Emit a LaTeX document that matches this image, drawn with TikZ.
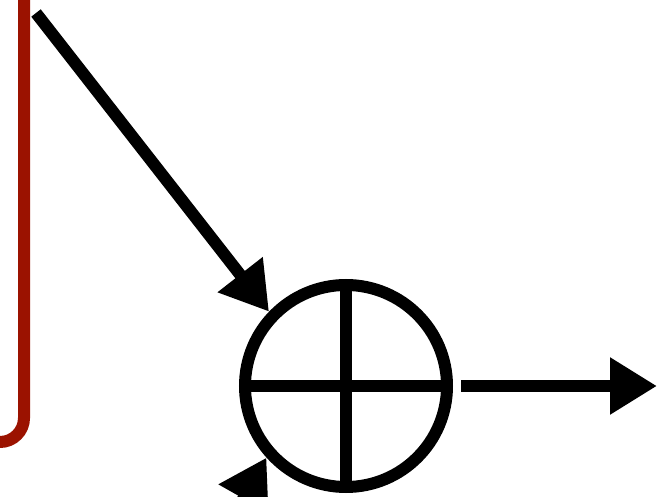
\documentclass[tikz,border=0pt]{standalone}
\usepackage{tikz}
\usetikzlibrary{arrows.meta}
\definecolor{wire}{RGB}{155,18,0}

\begin{document}
\begin{tikzpicture}[x=1pt, y=-1pt,
    flow/.style={draw, line width=12pt, -{Triangle[length=47pt, width=54pt]}},
    sumnode/.style={circle, draw, line width=12pt, minimum size=202pt, inner sep=0pt}]
    \useasboundingbox (0,0) rectangle (657,497);
    \clip (0,0) rectangle (657,497);
    \draw[wire, line width=12pt, rounded corners=24pt] (24,-20) -- (24,442) -- (-40,442);
    \node[sumnode] (sum) at (346,386) {};
    \draw[line width=12pt] (sum.north) -- (sum.south) (sum.west) -- (sum.east);
    \coordinate (in1) at (36,13);
    \coordinate (in2) at (186,600);
    \coordinate (out) at (657,386);
    \draw[flow] (in1) -- (sum.136);
    \draw[flow] (in2) -- (sum.222);
    \draw[flow, shorten <=8pt] (sum.east) -- (out);
\end{tikzpicture}
\end{document}
